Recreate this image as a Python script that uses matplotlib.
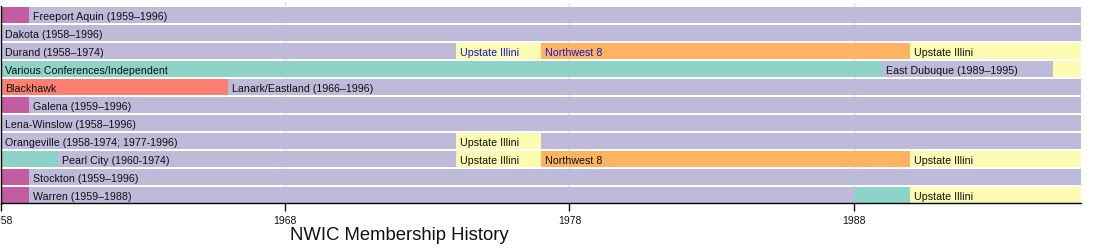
import matplotlib
matplotlib.use('Agg')
import matplotlib.pyplot as plt

# Colours (ColorBrewer Set3-like, as in the wiki timeline)
LAVENDER = '#bebada'
MAGENTA = '#c45ca2'
TEAL = '#8dd3c7'
SALMON = '#fb8072'
ORANGE = '#fdb462'
YELLOW = '#fbfbb2'
GRID = '#ffcccc'
BLUE_TEXT = '#1414d4'

plt.rcParams['font.family'] = ['Liberation Sans', 'DejaVu Sans']

START, END = 1958, 1996

# one list of (start, end, colour key, label, label colour) segments per school, top to bottom
freeport = [(1958, 1959, 'mag', '', 'k'), (1959, 1996, 'lav', 'Freeport Aquin (1959\u20131996)', 'k')]
dakota = [(1958, 1996, 'lav', 'Dakota (1958\u20131996)', 'k')]
durand = [(1958, 1974, 'lav', 'Durand (1958\u20131974)', 'k'),
          (1974, 1977, 'yel', 'Upstate Illini', 'b'),
          (1977, 1990, 'ora', 'Northwest 8', 'b'),
          (1990, 1996, 'yel', 'Upstate Illini', 'k')]
various = [(1958, 1989, 'tea', 'Various Conferences/Independent', 'k'),
           (1989, 1995, 'lav', 'East Dubuque (1989\u20131995)', 'k'),
           (1995, 1996, 'yel', '', 'k')]
blackhawk = [(1958, 1966, 'sal', 'Blackhawk', 'k'),
             (1966, 1996, 'lav', 'Lanark/Eastland (1966\u20131996)', 'k')]
galena = [(1958, 1959, 'mag', '', 'k'), (1959, 1996, 'lav', 'Galena (1959\u20131996)', 'k')]
lena = [(1958, 1996, 'lav', 'Lena-Winslow (1958\u20131996)', 'k')]
orangeville = [(1958, 1974, 'lav', 'Orangeville (1958-1974; 1977-1996)', 'k'),
               (1974, 1977, 'yel', 'Upstate Illini', 'k'),
               (1977, 1996, 'lav', '', 'k')]
pearl = [(1958, 1960, 'tea', '', 'k'),
         (1960, 1974, 'lav', 'Pearl City (1960-1974)', 'k'),
         (1974, 1977, 'yel', 'Upstate Illini', 'k'),
         (1977, 1990, 'ora', 'Northwest 8', 'k'),
         (1990, 1996, 'yel', 'Upstate Illini', 'k')]
stockton = [(1958, 1959, 'mag', '', 'k'), (1959, 1996, 'lav', 'Stockton (1959\u20131996)', 'k')]
warren = [(1958, 1959, 'mag', '', 'k'),
          (1959, 1988, 'lav', 'Warren (1959\u20131988)', 'k'),
          (1988, 1990, 'tea', '', 'k'),
          (1990, 1996, 'yel', 'Upstate Illini', 'k')]

rows = [freeport, dakota, durand, various, blackhawk, galena, lena,
        orangeville, pearl, stockton, warren]

tick_years = [1958, 1968, 1978, 1988]

colors = {'lav': LAVENDER, 'mag': MAGENTA, 'tea': TEAL, 'sal': SALMON,
          'ora': ORANGE, 'yel': YELLOW}
text_colors = {'k': '#111111', 'b': BLUE_TEXT}

W, H = 1100, 253
fig = plt.figure(figsize=(W / 100, H / 100), dpi=100)
# axes spans pixel x 1..1081, y 4..204 (from top)
ax = fig.add_axes([1 / W, (H - 204) / H, 1080 / W, 200 / H])

pitch = 18.0
bar_h = 16 / pitch
ax.set_xlim(START, END)
ax.set_ylim((204 - 16) / pitch, -12 / pitch)

for year in tick_years[1:]:
    ax.axvline(year, color=GRID, lw=1, zorder=0)

for i, segs in enumerate(rows):
    for s, e, c, label, tc in segs:
        ax.barh(i, e - s, left=s, height=bar_h, color=colors[c], lw=0, zorder=2)
        if label:
            ax.text(s + 0.14, i + 0.03, label, fontsize=7.7, color=text_colors[tc],
                    ha='left', va='center', zorder=3)

for side in ['top', 'right']:
    ax.spines[side].set_visible(False)
ax.spines['left'].set_bounds(-0.5 + (1 - bar_h) / 2 - 0.05, len(rows) - 0.5)
ax.spines['left'].set_linewidth(1)
ax.spines['bottom'].set_linewidth(1)
ax.set_yticks([])
ax.set_xticks(tick_years)
ax.set_xticklabels([str(y) for y in tick_years])
ax.tick_params(axis='x', length=6, width=1, pad=3, labelsize=7.5, colors='#111111')

fig.text(399 / W, (H - 236) / H, 'NWIC Membership History', fontsize=13.3,
         ha='center', va='center', color='#111111')

plt.savefig('out.png', dpi=100, facecolor='white')
